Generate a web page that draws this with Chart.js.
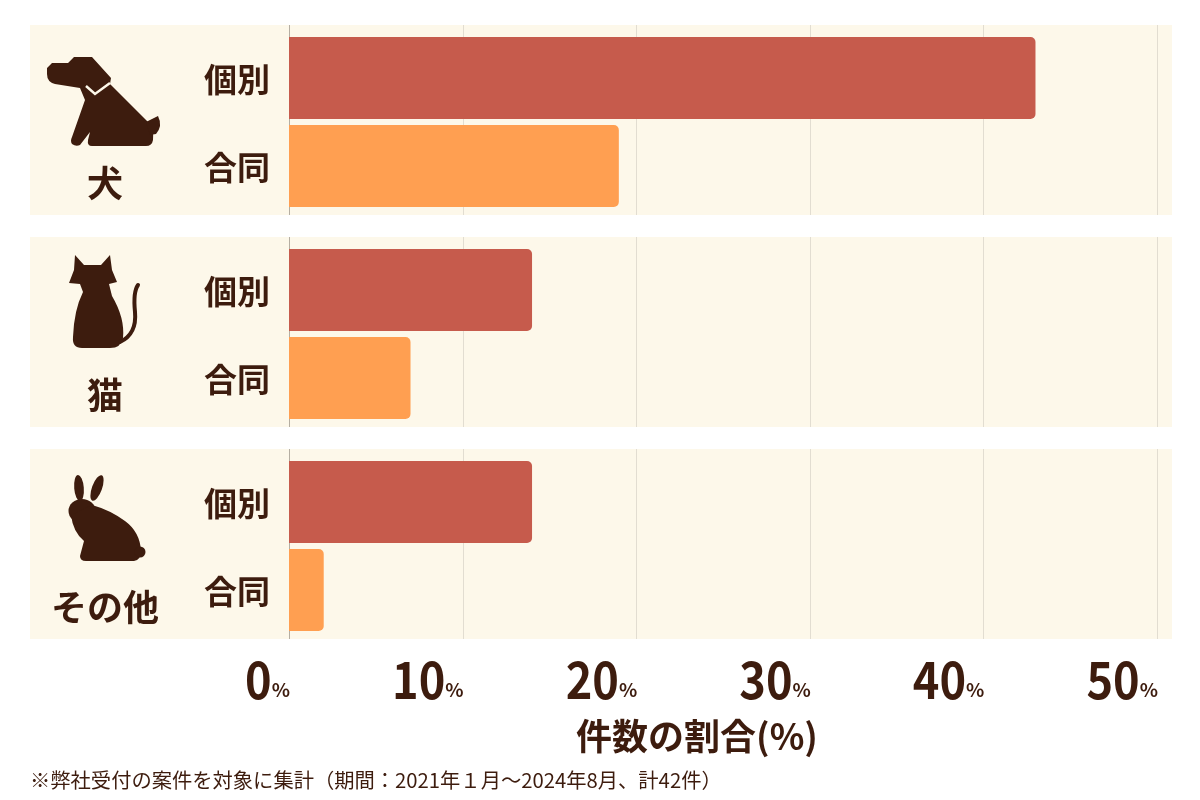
<!DOCTYPE html>
<html>
<head>
<meta charset="utf-8">
<script src="https://cdn.jsdelivr.net/npm/chart.js@4"></script>
<style>
html,body{margin:0;padding:0;background:#ffffff;}
#wrap{width:1200px;height:800px;position:relative;}
</style>
</head>
<body>
<div id="wrap"><canvas id="c" width="1200" height="800"></canvas></div>
<script>
// ---- data ----
const groups = ['犬', '猫', 'その他'];
const seriesNames = ['個別', '合同'];
const kobetsu = [43, 14, 14];
const godo = [19, 7, 2];
const xTicks = [0, 10, 20, 30, 40, 50];
const axisTitle = '件数の割合(%)';
const footnote = '※弊社受付の案件を対象に集計（期間：2021年１月～2024年8月、計42件）';

const TEXT = '#3d1c0e';
const BAND = '#fdf8ea';
const FONT = '"Noto Sans CJK JP", "Noto Sans", sans-serif';

function drawDog(ctx, cx, cy) {
  ctx.save();
  ctx.translate(cx - 105, cy - 120);
  ctx.fillStyle = TEXT;
  ctx.beginPath();
  ctx.moveTo(47, 68);
  ctx.lineTo(52, 63);
  ctx.lineTo(68, 63);
  ctx.lineTo(74, 57);
  ctx.lineTo(92, 57);
  ctx.lineTo(111, 78);
  ctx.lineTo(110, 84);
  ctx.lineTo(150, 124);
  ctx.quadraticCurveTo(154, 130, 153, 140);
  ctx.quadraticCurveTo(152, 146, 146, 146);
  ctx.lineTo(92, 146);
  ctx.quadraticCurveTo(87, 146, 88, 140);
  ctx.lineTo(90, 132);
  ctx.lineTo(80, 145);
  ctx.quadraticCurveTo(76, 147, 72, 144);
  ctx.quadraticCurveTo(70, 141, 72, 137);
  ctx.lineTo(85, 100);
  ctx.lineTo(80, 88);
  ctx.lineTo(55, 84);
  ctx.quadraticCurveTo(47, 82, 47, 74);
  ctx.closePath();
  ctx.fill();
  // tail
  ctx.beginPath();
  ctx.moveTo(146, 122);
  ctx.lineTo(158, 116);
  ctx.quadraticCurveTo(163, 126, 156, 134);
  ctx.lineTo(150, 135);
  ctx.closePath();
  ctx.fill();
  // collar
  ctx.strokeStyle = BAND;
  ctx.lineWidth = 2.5;
  ctx.beginPath();
  ctx.moveTo(86, 86);
  ctx.lineTo(95, 94);
  ctx.lineTo(110, 83);
  ctx.stroke();
  ctx.restore();
}

function drawCat(ctx, cx, cy) {
  ctx.save();
  ctx.translate(cx - 105, cy - 332);
  ctx.fillStyle = TEXT;
  ctx.beginPath();
  ctx.moveTo(75, 255);
  ctx.lineTo(84, 265);
  ctx.lineTo(101, 265);
  ctx.lineTo(110, 255);
  ctx.lineTo(112, 270);
  ctx.lineTo(117, 282);
  ctx.lineTo(109, 284);
  ctx.lineTo(112, 296);
  ctx.quadraticCurveTo(125, 318, 123, 338);
  ctx.quadraticCurveTo(121, 348, 110, 348);
  ctx.lineTo(82, 348);
  ctx.quadraticCurveTo(72, 348, 73, 337);
  ctx.quadraticCurveTo(74, 310, 83, 292);
  ctx.lineTo(80, 284);
  ctx.lineTo(69, 283);
  ctx.lineTo(74, 270);
  ctx.closePath();
  ctx.fill();
  ctx.strokeStyle = TEXT;
  ctx.lineWidth = 4;
  ctx.lineCap = 'round';
  ctx.beginPath();
  ctx.moveTo(120, 342);
  ctx.quadraticCurveTo(137, 334, 135, 312);
  ctx.quadraticCurveTo(133, 292, 138, 285);
  ctx.stroke();
  ctx.restore();
}

function drawRabbit(ctx, cx, cy) {
  ctx.save();
  ctx.translate(cx - 105, cy - 544);
  ctx.fillStyle = TEXT;
  // ears
  ctx.beginPath();
  ctx.ellipse(79, 488, 4.8, 13, -0.08, 0, Math.PI * 2);
  ctx.fill();
  ctx.beginPath();
  ctx.ellipse(97, 488, 5, 13.5, 0.35, 0, Math.PI * 2);
  ctx.fill();
  // head
  ctx.beginPath();
  ctx.ellipse(82, 511, 13.5, 12, 0, 0, Math.PI * 2);
  ctx.fill();
  // body
  ctx.beginPath();
  ctx.moveTo(71, 515);
  ctx.quadraticCurveTo(73, 532, 84, 541);
  ctx.lineTo(80, 556);
  ctx.quadraticCurveTo(80, 561, 86, 561);
  ctx.lineTo(134, 561);
  ctx.quadraticCurveTo(141, 560, 141, 551);
  ctx.quadraticCurveTo(140, 532, 125, 521);
  ctx.quadraticCurveTo(110, 510, 92, 505);
  ctx.closePath();
  ctx.fill();
  // tail
  ctx.beginPath();
  ctx.arc(140, 552, 5.5, 0, Math.PI * 2);
  ctx.fill();
  ctx.restore();
}
const iconFns = [drawDog, drawCat, drawRabbit];

const decor = {
  id: 'decor',
  beforeDatasetsDraw(chart) {
    const ctx = chart.ctx;
    const ys = chart.scales.y, xs = chart.scales.x;
    ctx.save();
    groups.forEach((g, i) => {
      const c = ys.getPixelForValue(i);
      const top = c - 97, bot = c + 93;
      ctx.fillStyle = BAND;
      ctx.fillRect(30, top, 1142, bot - top);
      xs.ticks.forEach(t => {
        const x = Math.round(xs.getPixelForValue(t.value)) + 0.5;
        ctx.strokeStyle = t.value === 0 ? '#b5aea2' : '#e2ddd1';
        ctx.lineWidth = 1;
        ctx.beginPath();
        ctx.moveTo(x, top);
        ctx.lineTo(x, bot);
        ctx.stroke();
      });
    });
    ctx.restore();
  },
  afterDatasetsDraw(chart) {
    const ctx = chart.ctx;
    const ys = chart.scales.y, xs = chart.scales.x;
    ctx.save();
    ctx.fillStyle = TEXT;
    // per-bar labels
    chart.data.datasets.forEach((ds, di) => {
      const meta = chart.getDatasetMeta(di);
      meta.data.forEach(el => {
        ctx.font = 'bold 33px ' + FONT;
        ctx.textAlign = 'center';
        ctx.textBaseline = 'middle';
        ctx.fillText(ds.label, 237, el.y + 1);
      });
    });
    // group icons and names
    groups.forEach((g, i) => {
      const c = ys.getPixelForValue(i) - 2;
      iconFns[i](ctx, 105, c);
      ctx.font = 'bold 36px ' + FONT;
      ctx.textAlign = 'center';
      ctx.textBaseline = 'middle';
      ctx.fillText(g, 105, c + 63);
    });
    // x tick labels: big number + small %
    xs.ticks.forEach(t => {
      const x = xs.getPixelForValue(t.value);
      ctx.textBaseline = 'alphabetic';
      ctx.textAlign = 'right';
      ctx.font = 'bold 19px ' + FONT;
      const pw = ctx.measureText('%').width;
      ctx.fillText('%', x + 1, 697);
      ctx.save();
      ctx.translate(x + 1 - pw, 699);
      ctx.scale(0.94, 1.06);
      ctx.font = 'bold 48px ' + FONT;
      ctx.fillText(String(t.value), 0, 0);
      ctx.restore();
    });
    // axis title
    ctx.font = 'bold 36px ' + FONT;
    ctx.textAlign = 'center';
    ctx.textBaseline = 'middle';
    ctx.fillText(axisTitle, (xs.left + xs.right) / 2 - 26, 736);
    // footnote
    ctx.font = '20.3px ' + FONT;
    ctx.textAlign = 'left';
    ctx.fillText(footnote, 30, 780);
    ctx.restore();
  }
};

new Chart(document.getElementById('c'), {
  type: 'bar',
  data: {
    labels: groups,
    datasets: [
      { label: seriesNames[0], data: kobetsu, backgroundColor: '#c65b4c' },
      { label: seriesNames[1], data: godo, backgroundColor: '#ff9f51' }
    ]
  },
  options: {
    indexAxis: 'y',
    responsive: false,
    animation: false,
    devicePixelRatio: 1,
    layout: { padding: { left: 289, right: 43, top: 16, bottom: 148 } },
    datasets: {
      bar: {
        categoryPercentage: 0.83,
        barPercentage: 0.932,
        borderRadius: 5,
        borderSkipped: 'start'
      }
    },
    scales: {
      x: { min: 0, max: 50, ticks: { stepSize: 10 }, display: false },
      y: { display: false }
    },
    plugins: {
      legend: { display: false },
      tooltip: { enabled: false }
    }
  },
  plugins: [decor]
});
</script>
</body>
</html>
